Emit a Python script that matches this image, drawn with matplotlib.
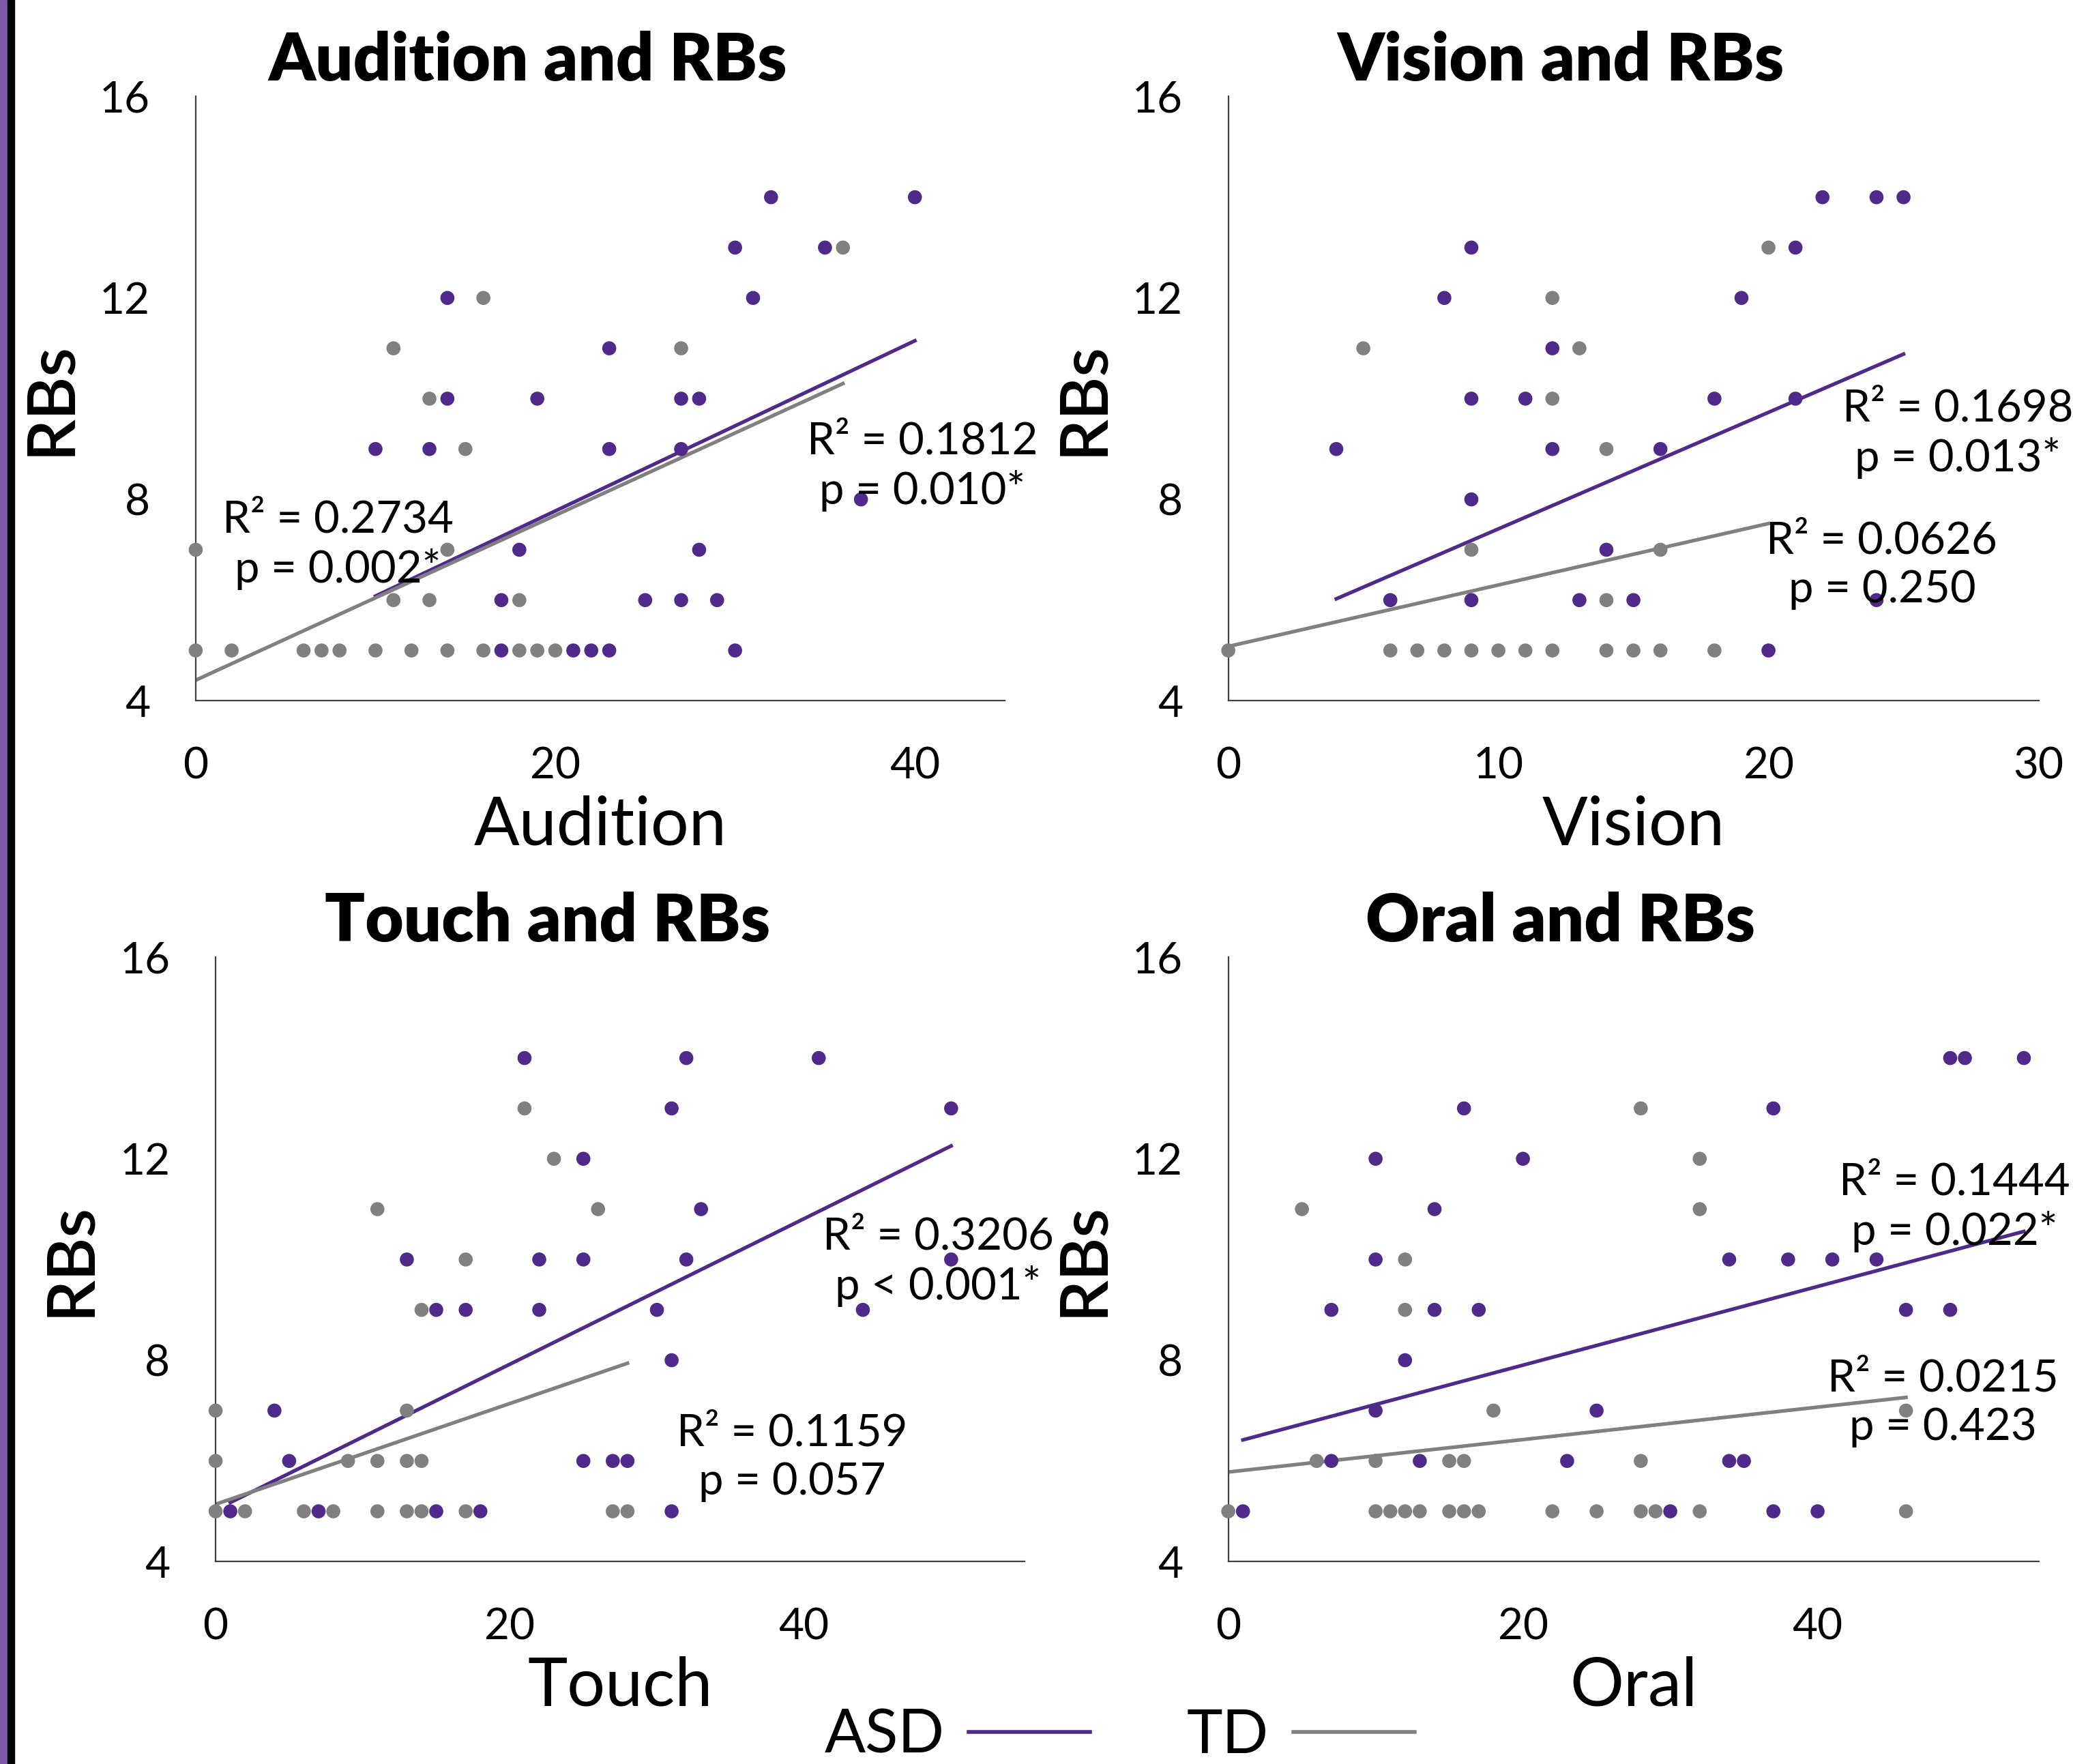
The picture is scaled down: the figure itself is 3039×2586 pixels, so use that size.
import matplotlib
matplotlib.use("Agg")
import matplotlib.pyplot as plt
from matplotlib.lines import Line2D
from matplotlib.patches import Rectangle
import numpy as np

plt.rcParams['font.family'] = ['Lato', 'DejaVu Sans']

ASD = '#4f2a8a'
TD = '#808080'

# ---- data ----
aud_asd_x = [32, 40, 30, 35, 14, 31, 23, 14, 19, 27, 28, 10, 13, 23, 27, 37, 18, 28, 17, 25, 27, 29, 17, 21, 22, 23, 30]
aud_asd_y = [14, 14, 13, 13, 12, 12, 11, 10, 10, 10, 10, 9, 9, 9, 9, 8, 7, 7, 6, 6, 6, 6, 5, 5, 5, 5, 5]
aud_td_x = [36, 16, 11, 27, 13, 15, 0, 14, 11, 13, 18, 0, 2, 6, 7, 8, 10, 12, 14, 16, 18, 19, 20]
aud_td_y = [13, 12, 11, 11, 10, 9, 7, 7, 6, 6, 6, 5, 5, 5, 5, 5, 5, 5, 5, 5, 5, 5, 5]

vis_asd_x = [22, 24, 25, 9, 21, 8, 19, 12, 9, 11, 18, 21, 4, 12, 16, 9, 14, 6, 9, 13, 15, 24, 20]
vis_asd_y = [14, 14, 14, 13, 13, 12, 12, 11, 10, 10, 10, 10, 9, 9, 9, 8, 7, 6, 6, 6, 6, 6, 5]
vis_td_x = [20, 12, 5, 13, 12, 14, 9, 16, 14, 0, 6, 7, 8, 9, 10, 11, 12, 14, 15, 16, 18]
vis_td_y = [13, 12, 11, 11, 10, 9, 7, 7, 6, 5, 5, 5, 5, 5, 5, 5, 5, 5, 5, 5, 5]

tou_asd_x = [21, 32, 41, 31, 50, 25, 33, 13, 22, 25, 32, 50, 15, 17, 22, 30, 44, 31, 4, 5, 25, 27, 28, 1, 7, 15, 18, 31]
tou_asd_y = [14, 14, 14, 13, 13, 12, 11, 10, 10, 10, 10, 10, 9, 9, 9, 9, 9, 8, 7, 6, 6, 6, 6, 5, 5, 5, 5, 5]
tou_td_x = [21, 23, 11, 26, 17, 14, 0, 13, 0, 9, 11, 13, 14, 0, 2, 6, 8, 11, 13, 14, 17, 27, 28]
tou_td_y = [13, 12, 11, 11, 10, 9, 7, 7, 6, 6, 6, 6, 6, 5, 5, 5, 5, 5, 5, 5, 5, 5, 5]

ora_asd_x = [49, 50, 54, 16, 37, 10, 20, 14, 10, 34, 38, 41, 44, 7, 14, 17, 46, 49, 12, 10, 25, 7, 13, 23, 34, 35, 1, 30, 37, 40]
ora_asd_y = [14, 14, 14, 13, 13, 12, 12, 11, 10, 10, 10, 10, 10, 9, 9, 9, 9, 9, 8, 7, 7, 6, 6, 6, 6, 6, 5, 5, 5, 5]
ora_td_x = [28, 32, 5, 32, 12, 12, 18, 46, 6, 10, 15, 16, 28, 0, 10, 11, 12, 13, 15, 16, 17, 22, 25, 28, 29, 32, 46]
ora_td_y = [13, 12, 11, 11, 10, 9, 7, 7, 6, 6, 6, 6, 6, 5, 5, 5, 5, 5, 5, 5, 5, 5, 5, 5, 5, 5, 5]

# linear trendlines (slope, intercept) as shown in the figure
aud_fit = {'asd': (0.169, 4.39), 'td': (0.1636, 4.41)}
vis_fit = {'asd': (0.2314, 5.10), 'td': (0.122, 5.08)}
tou_fit = {'asd': (0.1445, 5.03), 'td': (0.100, 5.14)}
ora_fit = {'asd': (0.0781, 6.34), 'td': (0.0322, 5.78)}

aud_stats = ['R\u00b2 = 0.2734\np = 0.002*', 'R\u00b2 = 0.1812\np = 0.010*']
vis_stats = ['R\u00b2 = 0.1698\np = 0.013*', 'R\u00b2 = 0.0626\np = 0.250']
tou_stats = ['R\u00b2 = 0.3206\np < 0.001*', 'R\u00b2 = 0.1159\np = 0.057']
ora_stats = ['R\u00b2 = 0.1444\np = 0.022*', 'R\u00b2 = 0.0215\np = 0.423']

panels = [
    dict(title='Audition and RBs', xlabel='Audition', xmax=45, xticks=[0, 20, 40],
         asd=(aud_asd_x, aud_asd_y), td=(aud_td_x, aud_td_y), fit=aud_fit, stats=aud_stats,
         rect=[0.0944, 0.6027, 0.3903, 0.3426], stat_pos=[(7.9, 7.1), (40.4, 8.65)]),
    dict(title='Vision and RBs', xlabel='Vision', xmax=30, xticks=[0, 10, 20, 30],
         asd=(vis_asd_x, vis_asd_y), td=(vis_td_x, vis_td_y), fit=vis_fit, stats=vis_stats,
         rect=[0.5925, 0.6027, 0.3909, 0.3426], stat_pos=[(27.0, 9.3), (24.2, 6.69)]),
    dict(title='Touch and RBs', xlabel='Touch', xmax=55, xticks=[0, 20, 40],
         asd=(tou_asd_x, tou_asd_y), td=(tou_td_x, tou_td_y), fit=tou_fit, stats=tou_stats,
         rect=[0.1040, 0.1147, 0.3903, 0.3426], stat_pos=[(49.1, 9.96), (39.2, 6.07)]),
    dict(title='Oral and RBs', xlabel='Oral', xmax=55, xticks=[0, 20, 40],
         asd=(ora_asd_x, ora_asd_y), td=(ora_td_x, ora_td_y), fit=ora_fit, stats=ora_stats,
         rect=[0.5925, 0.1147, 0.3909, 0.3426], stat_pos=[(49.3, 11.04), (48.5, 7.15)]),
]

fig = plt.figure(figsize=(30.39, 25.86), dpi=100)

# thin border strip on the left edge
fig.add_artist(Rectangle((0, 0), 0.0035, 1, transform=fig.transFigure, color='#7a5ca8', zorder=0))
fig.add_artist(Rectangle((0.0035, 0), 0.0035, 1, transform=fig.transFigure, color='black', zorder=0))

for p in panels:
    ax = fig.add_axes(p['rect'])
    for key, col in (('asd', ASD), ('td', TD)):
        xs, ys = p[key]
        ax.scatter(xs, ys, s=220, color=col, edgecolors='none', zorder=3, clip_on=False)
        m, b = p['fit'][key]
        xx = np.array([min(xs), max(xs)])
        ax.plot(xx, m * xx + b, color=col, lw=3.8, zorder=2)
    for txt, (tx, ty) in zip(p['stats'], p['stat_pos']):
        ax.text(tx, ty, txt, ha='center', va='center', multialignment='center',
                fontsize=47, linespacing=1.25, zorder=4, clip_on=False)
    ax.set_xlim(0, p['xmax'])
    ax.set_ylim(4, 16)
    ax.set_xticks(p['xticks'])
    ax.set_yticks([4, 8, 12, 16])
    ax.tick_params(length=0, labelsize=46, pad=48)
    for s in ('top', 'right'):
        ax.spines[s].set_visible(False)
    for s in ('left', 'bottom'):
        ax.spines[s].set_color('#404040')
        ax.spines[s].set_linewidth(1.6)
    ax.set_title(p['title'], fontsize=70, fontweight='heavy', x=0.41, pad=17)
    ax.set_xlabel(p['xlabel'], fontsize=71, labelpad=10)
    ax.set_ylabel('RBs', fontsize=70, fontweight='semibold', labelpad=20)

handles = [Line2D([], [], color=ASD, lw=4), Line2D([], [], color=TD, lw=4)]
fig.legend(handles, ['ASD', 'TD'], loc='center', bbox_to_anchor=(0.54, 0.016), ncol=2,
           frameon=False, markerfirst=False, fontsize=64, handlelength=2.0,
           handletextpad=0.4, columnspacing=1.6, borderpad=0.1)

fig.savefig('out.png', dpi=100)
